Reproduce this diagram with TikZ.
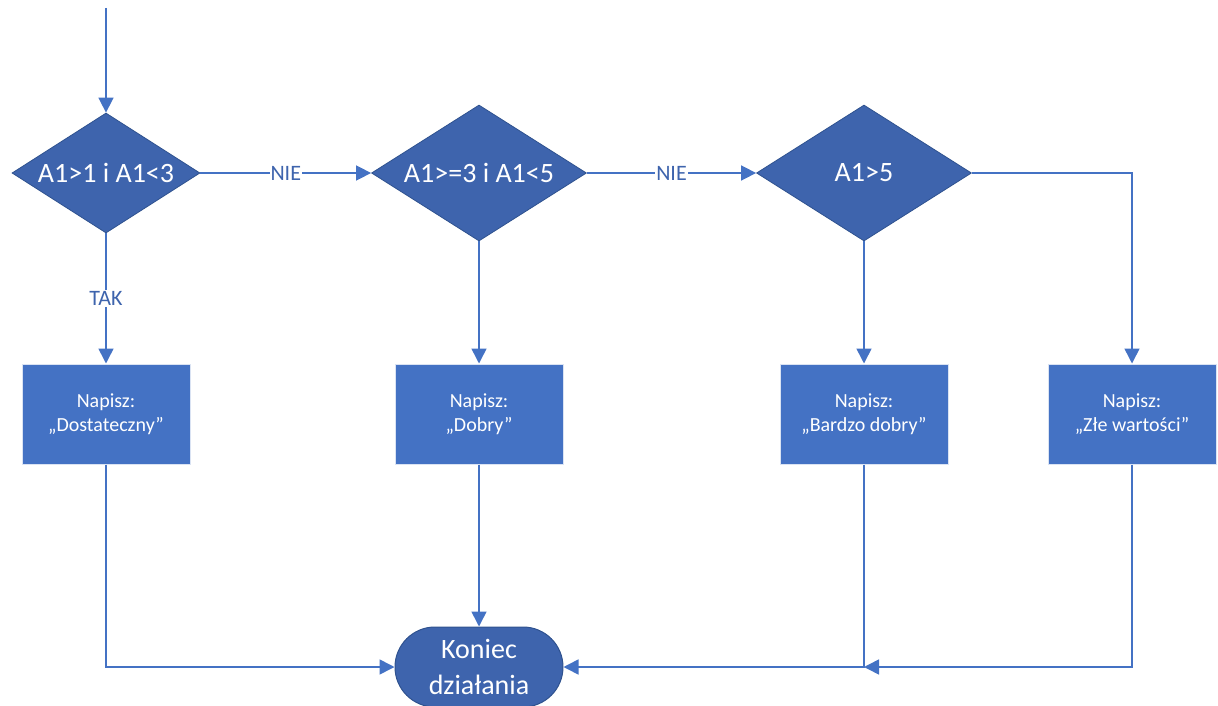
\documentclass[tikz,border=0pt]{standalone}
\usepackage{fontspec}
\setmainfont{Carlito}
\usetikzlibrary{shapes.geometric,arrows.meta}
\definecolor{dblue}{HTML}{3E64AD}
\definecolor{mblue}{HTML}{4472C4}
\definecolor{bordr}{HTML}{2F528F}
\tikzset{
  x=1pt,y=1pt,
  decision/.style={diamond,fill=dblue,draw=bordr,line width=0.8pt,inner sep=0pt,text=white,font=\fontsize{28}{34}\selectfont},
  actbox/.style={rectangle,fill=mblue,draw=white!80!mblue,line width=1pt,minimum width=168pt,minimum height=100pt,inner sep=0pt,text=white,align=center,font=\fontsize{20}{24}\selectfont},
  termnode/.style={rectangle,rounded corners=40pt,fill=dblue,draw=bordr,line width=1pt,minimum width=168pt,minimum height=80pt,inner sep=0pt,text=white,align=center,font=\fontsize{28}{36}\selectfont},
  conn/.style={draw=mblue,line width=1.6pt,-{Triangle[length=15pt,width=15pt]}},
  lbl/.style={fill=white,text=dblue,inner sep=1pt,font=\fontsize{22}{26}\selectfont}
}
\begin{document}
\begin{tikzpicture}
\useasboundingbox (0,0) rectangle (1218,-706);
\begin{scope}
\clip (0,0) rectangle (1218,-706);
\coordinate (start) at (106,-8);
\node[decision,minimum width=188pt,minimum height=120pt,aspect=1.57] (d1) at (106,-173) {A1>1 i A1<3};
\node[decision,minimum width=215pt,minimum height=136pt,aspect=1.58] (d2) at (479,-173) {A1>=3 i A1<5};
\node[decision,minimum width=215pt,minimum height=136pt,aspect=1.58] (d3) at (864,-173) {A1>5};
\node[actbox] (b1) at (106,-414) {Napisz:\\„Dostateczny”};
\node[actbox] (b2) at (479,-414) {Napisz:\\„Dobry”};
\node[actbox] (b3) at (864,-414) {Napisz:\\„Bardzo dobry”};
\node[actbox] (b4) at (1132,-414) {Napisz:\\„Złe wartości”};
\node[termnode] (term) at (479,-667) {Koniec\\działania};
\coordinate (j) at (864,-667);

\draw[conn] (start) -- (d1.north);
\draw[conn] (d1.east) -- node[lbl] {NIE} (d2.west);
\draw[conn] (d2.east) -- node[lbl] {NIE} (d3.west);
\draw[conn] (d1.south) -- node[lbl] {TAK} (b1.north);
\draw[conn] (d2.south) -- (b2.north);
\draw[conn] (d3.south) -- (b3.north);
\draw[conn] (d3.east) -| (b4.north);
\draw[conn] (b1.south) |- (term.west);
\draw[conn] (b2.south) -- (term.north);
\draw[conn] (b3.south) |- (term.east);
\draw[conn] (b4.south) |- (j);
\end{scope}
\end{tikzpicture}
\end{document}
